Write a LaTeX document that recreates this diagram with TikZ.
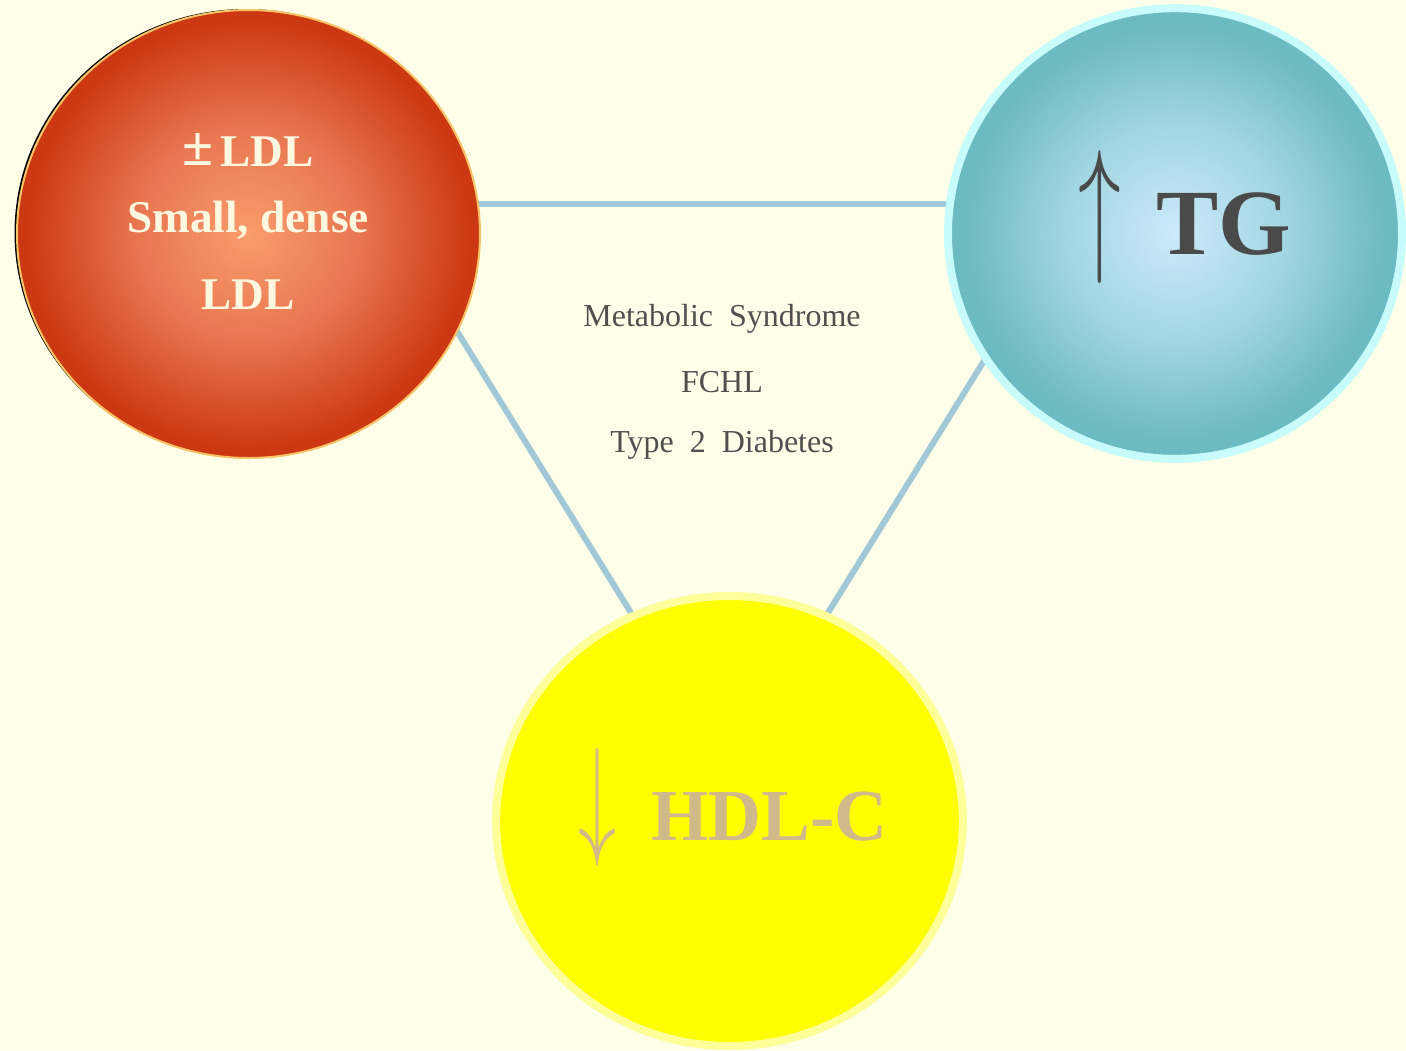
\documentclass[tikz,border=0pt]{standalone}
\usepackage{fontspec}
\setmainfont{Liberation Serif}
\usetikzlibrary{shapes.geometric}
\definecolor{bgc}{HTML}{FFFEE9}
\definecolor{linec}{HTML}{A0C8D6}
\definecolor{redin}{HTML}{FA9C6C}
\definecolor{redmid}{HTML}{E87650}
\definecolor{redout}{HTML}{CC3812}
\definecolor{redrim}{HTML}{F8C468}
\definecolor{tealin}{HTML}{CCEAFA}
\definecolor{tealmid}{HTML}{A2D6E2}
\definecolor{tealout}{HTML}{6CBAC2}
\definecolor{tealrim}{HTML}{C8FCFC}
\definecolor{yelfill}{HTML}{FFFF00}
\definecolor{yelrim}{HTML}{FFFF99}
\definecolor{darktxt}{HTML}{4A4A4A}
\definecolor{tantxt}{HTML}{D2B98A}
\definecolor{lighttxt}{HTML}{FFF7E0}
\definecolor{midtxt}{HTML}{505050}
\pgfdeclareradialshading{redshade}{\pgfpoint{0bp}{0bp}}{color(0bp)=(redin); color(12bp)=(redmid); color(24bp)=(redout); color(50bp)=(redout)}
\pgfdeclareradialshading{tealshade}{\pgfpoint{0bp}{0bp}}{color(0bp)=(tealin); color(12bp)=(tealmid); color(23bp)=(tealout); color(50bp)=(tealout)}
\tikzset{
  blob/.style={ellipse, inner sep=0pt, outer sep=0pt},
  link/.style={draw=linec, line width=4.5pt},
  ldltext/.style={text=lighttxt, font=\fontsize{34}{40}\selectfont\bfseries},
  midtext/.style={text=midtxt, font=\fontsize{24}{28}\selectfont},
}
\newcommand{\bigup}{\resizebox{32pt}{78pt}{$\uparrow$}}
\newcommand{\bigdown}{\resizebox{28.5pt}{69pt}{$\downarrow$}}
\begin{document}
\begin{tikzpicture}[x=0.75pt,y=-0.75pt]
\fill[bgc] (0,0) rectangle (1406,1050);
\useasboundingbox (0,0) rectangle (1406,1050);
% connector end points
\coordinate (t1) at (478,204);
\coordinate (t2) at (950,204);
\coordinate (l1) at (455,328);
\coordinate (l2) at (633,616);
\coordinate (r1) at (987,356);
\coordinate (r2) at (826,616);
\draw[link] (t1) -- (t2);
\draw[link] (l1) -- (l2);
\draw[link] (r1) -- (r2);
% red circle with shadow
\node[blob, fill=black, minimum width=347.25pt, minimum height=336pt] (ldlshadow) at (246,233) {};
\node[blob, shading=redshade, draw=redrim, line width=1.5pt,
  minimum width=347.25pt, minimum height=336pt] (ldl) at (248.5,234) {};
% teal circle
\node[blob, shading=tealshade, draw=tealrim, line width=6pt,
  minimum width=340.5pt, minimum height=338pt] (tg) at (1175,233.5) {};
% yellow circle
\node[blob, fill=yelfill, draw=yelrim, line width=6pt,
  minimum width=350pt, minimum height=337.5pt] (hdl) at (729.5,821) {};
% texts
\node[ldltext] (ldl1) at (248,150) {\raisebox{1pt}{\scalebox{1.25}{±}}\,LDL};
\node[ldltext] (ldl2) at (248,220) {Small, dense};
\node[ldltext] (ldl3) at (248,295) {LDL};
\node[text=darktxt, font=\fontsize{70}{80}\selectfont\bfseries, anchor=base] (tgtxt) at (1185,254) {\bigup\hspace{26pt}TG};
\node[text=tantxt, font=\fontsize{55}{64}\selectfont\bfseries, anchor=base] (hdltxt) at (733,840) {\bigdown\hspace{26pt}HDL-C};
\node[midtext] (m1) at (722,319) {Metabolic\ \ Syndrome};
\node[midtext] (m2) at (722,382) {FCHL};
\node[midtext] (m3) at (722,445) {Type\ \ 2\ \ Diabetes};
\end{tikzpicture}
\end{document}
